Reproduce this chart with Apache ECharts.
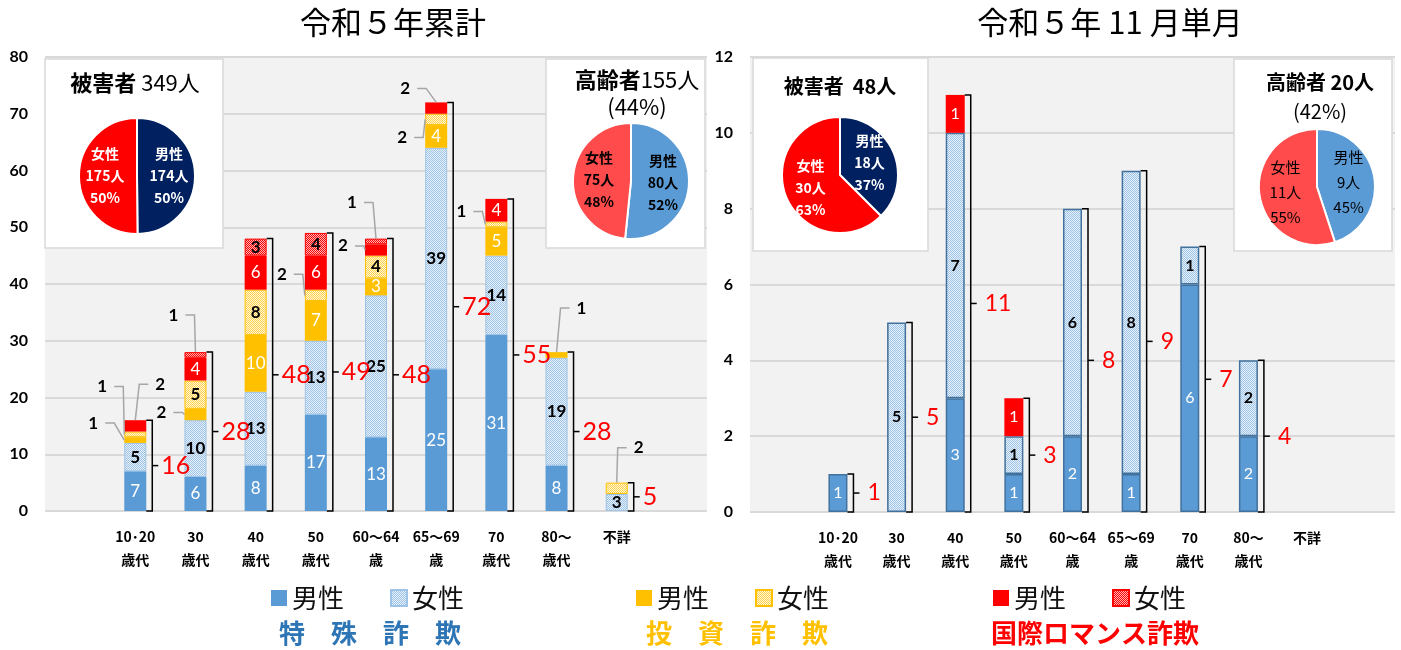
<!DOCTYPE html>
<html>
<head>
<meta charset="utf-8">
<title>年代別 詐欺被害状況</title>
<script src="https://cdn.jsdelivr.net/npm/echarts@6/dist/echarts.min.js"></script>
<style>
  html, body { margin: 0; padding: 0; background: #fff; }
  #main { width: 1401px; height: 650px; }
</style>
</head>
<body>
<div id="main"></div>
<script>
// 年代区分
var categories = ['10･20\n歳代', '30\n歳代', '40\n歳代', '50\n歳代', '60～64\n歳', '65～69\n歳', '70\n歳代', '80～\n歳代', '不詳'];

// 令和5年累計
var cumTokushuMale   = [7, 6, 8, 17, 13, 25, 31, 8, 0];
var cumTokushuFemale = [5, 10, 13, 13, 25, 39, 14, 19, 3];
var cumToshiMale     = [1, 2, 10, 7, 3, 4, 5, 1, 0];
var cumToshiFemale   = [1, 5, 8, 2, 4, 2, 1, 0, 2];
var cumRomanceMale   = [2, 4, 6, 6, 2, 2, 4, 0, 0];
var cumRomanceFemale = [0, 1, 3, 4, 1, 0, 0, 0, 0];

// 令和5年11月単月
var novTokushuMale   = [1, 0, 3, 1, 2, 1, 6, 2, 0];
var novTokushuFemale = [0, 5, 7, 1, 6, 8, 1, 2, 0];
var novToshiMale     = [0, 0, 0, 0, 0, 0, 0, 0, 0];
var novToshiFemale   = [0, 0, 0, 0, 0, 0, 0, 0, 0];
var novRomanceMale   = [0, 0, 1, 1, 0, 0, 0, 0, 0];
var novRomanceFemale = [0, 0, 0, 0, 0, 0, 0, 0, 0];

// 円グラフ（男性, 女性）
var genders = ['男性', '女性'];
var cumVictims = [174, 175];
var cumVictimsPct = [50, 50];
var cumElderly = [80, 75];
var cumElderlyPct = [52, 48];
var novVictims = [18, 30];
var novVictimsPct = [37, 63];
var novElderly = [9, 11];
var novElderlyPct = [45, 55];

var yTicksLeft = [0, 80, 10];
var yTicksRight = [0, 12, 2];

var seriesNames = ['特殊詐欺男性', '特殊詐欺女性', '投資詐欺男性', '投資詐欺女性', '国際ロマンス詐欺男性', '国際ロマンス詐欺女性'];

var CJK = "'Noto Sans CJK JP', sans-serif";
var NUM = "Lato, 'Noto Sans CJK JP', sans-serif";

// 引き出し線付きラベル（左グラフの小さい区間）
var leftCallouts = [
    {cat: 0, s: 2, at: 'left', dx: -31, dy: -17},
    {cat: 0, s: 3, at: 'left', dx: -22, dy: -48},
    {cat: 0, s: 4, at: 'top', dx: 25, dy: -36},
    {cat: 1, s: 5, at: 'top', dx: -22, dy: -37},
    {cat: 1, s: 2, at: 'left', dx: -23, dy: -2},
    {cat: 3, s: 3, at: 'left', dx: -23, dy: -21},
    {cat: 4, s: 4, at: 'left', dx: -22, dy: -4},
    {cat: 4, s: 5, at: 'top', dx: -24, dy: -36},
    {cat: 5, s: 4, at: 'top', dx: -31, dy: -14},
    {cat: 5, s: 3, at: 'left', dx: -23, dy: 18},
    {cat: 6, s: 3, at: 'left', dx: -24, dy: -13},
    {cat: 7, s: 2, at: 'top', dx: 25, dy: -44},
    {cat: 8, s: 3, at: 'top', dx: 22, dy: -35}
];

function makePattern(fg, bg) {
    var c = document.createElement('canvas');
    c.width = 4;
    c.height = 4;
    var ctx = c.getContext('2d');
    ctx.fillStyle = bg;
    ctx.fillRect(0, 0, 4, 4);
    ctx.fillStyle = fg;
    for (var y = 0; y < 4; y++) {
        for (var x = 0; x < 4; x++) {
            if ((x + y) % 2 === 0) ctx.fillRect(x, y, 1, 1);
        }
    }
    return {image: c, repeat: 'repeat'};
}

var fills = [
    '#5b9bd5',
    makePattern('#9dc3e6', '#e8f0fa'),
    '#ffc000',
    makePattern('#ffd34d', '#fff5d6'),
    '#ff0000',
    makePattern('#ff0000', '#ffb3b3')
];
var labelColors = ['#fff', '#000', '#fff', '#000', '#fff', '#000'];

function sum(a) { return a.reduce(function (x, y) { return x + y; }, 0); }

function totalsOf(groups) {
    return categories.map(function (c, i) {
        return groups.reduce(function (t, g) { return t + g[i]; }, 0);
    });
}

function barSeries(gi, groups, barW, minInside, fontSize, frames, frameW) {
    return groups.map(function (arr, s) {
        return {
            name: seriesNames[s],
            type: 'bar',
            xAxisIndex: gi,
            yAxisIndex: gi,
            stack: 'g' + gi,
            barWidth: barW,
            data: arr.map(function (v) { return v || null; }),
            itemStyle: {
                color: fills[s],
                borderColor: frames[s] || 'transparent',
                borderWidth: frames[s] ? frameW : 0
            },
            label: {
                show: true,
                position: 'inside',
                color: labelColors[s],
                fontSize: fontSize,
                fontFamily: NUM,
                fontWeight: s % 2 ? 'bold' : 'normal',
                formatter: function (p) { return p.value >= minInside ? p.value : ''; }
            },
            emphasis: {disabled: true}
        };
    });
}

// 合計の括弧と赤字
function bracketSeries(gi, totals, barW, fontSize, labelGap) {
    return {
        type: 'custom',
        xAxisIndex: gi,
        yAxisIndex: gi,
        z: 5,
        silent: true,
        data: totals.map(function (t, i) { return [i, t]; }),
        renderItem: function (params, api) {
            var t = api.value(1);
            if (!t) return null;
            var top = api.coord([api.value(0), t]);
            var bot = api.coord([api.value(0), 0]);
            var x = top[0] + barW / 2 + 6;
            var mid = (top[1] + bot[1]) / 2;
            return {
                type: 'group',
                children: [
                    {type: 'polyline', shape: {points: [[x - 6, top[1]], [x, top[1]], [x, bot[1]], [x - 6, bot[1]]]},
                        style: {stroke: '#000', lineWidth: 1.5, fill: null}},
                    {type: 'line', shape: {x1: x, y1: mid, x2: x + 6, y2: mid},
                        style: {stroke: '#000', lineWidth: 1.5}},
                    {type: 'text', style: {text: String(t), x: x + labelGap, y: mid, align: 'left', verticalAlign: 'middle',
                        fill: '#ff0000', fontSize: fontSize, fontFamily: NUM}}
                ]
            };
        }
    };
}

function calloutSeries(gi, groups, callouts, barW) {
    return {
        type: 'custom',
        xAxisIndex: gi,
        yAxisIndex: gi,
        z: 6,
        silent: true,
        data: callouts.map(function (c) {
            var lo = 0;
            for (var k = 0; k < c.s; k++) lo += groups[k][c.cat];
            return [c.cat, lo, lo + groups[c.s][c.cat]];
        }),
        renderItem: function (params, api) {
            var c = callouts[params.dataIndex];
            var pTop = api.coord([api.value(0), api.value(2)]);
            var pBot = api.coord([api.value(0), api.value(1)]);
            var ax, ay;
            if (c.at === 'top') { ax = pTop[0]; ay = pTop[1]; }
            else { ax = pTop[0] - barW / 2; ay = (pTop[1] + pBot[1]) / 2; }
            var lx = ax + c.dx, ly = ay + c.dy;
            var sg = ax > lx ? 1 : -1;
            return {
                type: 'group',
                children: [
                    {type: 'polyline', shape: {points: [[lx + sg * 12, ly], [lx + sg * 21, ly], [ax, ay]]},
                        style: {stroke: '#a6a6a6', lineWidth: 1.5, fill: null}},
                    {type: 'text', style: {text: String(api.value(2) - api.value(1)), x: lx, y: ly, align: 'center', verticalAlign: 'middle',
                        fill: '#000', fontSize: 17, fontWeight: 'bold', fontFamily: NUM}}
                ]
            };
        }
    };
}

function pieSeries(data, pct, center, colors, labelColor, fontWeight, fontSize, lineHeight) {
    return {
        type: 'pie',
        center: center,
        radius: 58,
        startAngle: 90,
        clockwise: true,
        z: 4,
        data: data.map(function (v, i) {
            return {name: genders[i], value: v, itemStyle: {color: colors[i]}};
        }),
        itemStyle: {borderColor: '#fff', borderWidth: 2},
        label: {
            position: 'inside',
            formatter: function (p) { return p.name + '\n' + p.value + '人\n' + pct[p.dataIndex] + '%'; },
            color: labelColor,
            fontSize: fontSize,
            fontWeight: fontWeight,
            lineHeight: lineHeight,
            fontFamily: CJK
        },
        labelLine: {show: false},
        emphasis: {disabled: true}
    };
}

var cumGroups = [cumTokushuMale, cumTokushuFemale, cumToshiMale, cumToshiFemale, cumRomanceMale, cumRomanceFemale];
var novGroups = [novTokushuMale, novTokushuFemale, novToshiMale, novToshiFemale, novRomanceMale, novRomanceFemale];

var cumTotal = sum(cumVictims), cumOld = sum(cumElderly);
var novTotal = sum(novVictims), novOld = sum(novElderly);

function xAxisOf(gi) {
    return {
        type: 'category', gridIndex: gi, data: categories, min: -1, max: 9,
        axisLine: {show: false}, axisTick: {show: false},
        axisLabel: {interval: 0, margin: 14, color: '#000', fontFamily: CJK, fontSize: 14, fontWeight: 'bold', lineHeight: 23}
    };
}
function yAxisOf(gi, ticks) {
    return {
        type: 'value', gridIndex: gi, min: ticks[0], max: ticks[1], interval: ticks[2],
        axisLine: {show: false}, axisTick: {show: false},
        axisLabel: {margin: 17, color: '#000', fontFamily: NUM, fontSize: 16, fontWeight: 'bold'},
        splitLine: {lineStyle: {color: '#d9d9d9', width: 2}}
    };
}

function legendOf(names, left) {
    return {
        data: names, left: left, top: 584, padding: 0, icon: 'rect',
        itemWidth: 16, itemHeight: 16, itemGap: 46,
        formatter: function (n) { return n.slice(-2); },
        textStyle: {fontFamily: CJK, fontSize: 26, color: '#111', lineHeight: 28}
    };
}

function textTitle(text, left, top, style) {
    return {text: text, left: left, top: top, textAlign: 'center', padding: 0, textStyle: style};
}

var chart = echarts.init(document.getElementById('main'));
var option = {
    animation: false,
    backgroundColor: '#fff',
    title: [
        textTitle('令和５年累計', 393, 5, {fontFamily: CJK, fontSize: 31, fontWeight: 'normal', color: '#000', lineHeight: 34}),
        textTitle('令和５年 11 月単月', 1110, 5, {fontFamily: CJK, fontSize: 31, fontWeight: 'normal', color: '#000', lineHeight: 34}),
        textTitle('{b|被害者} {n|' + cumTotal + '人}', 135, 70, {rich: {
            b: {fontFamily: CJK, fontSize: 22, fontWeight: 'bold', color: '#000', lineHeight: 26},
            n: {fontFamily: CJK, fontSize: 22, fontWeight: 'normal', color: '#000', lineHeight: 26}}}),
        textTitle('{b|高齢者}{n|' + cumOld + '人}\n{n|(' + Math.round(cumOld / cumTotal * 100) + '%)}', 637, 66, {rich: {
            b: {fontFamily: CJK, fontSize: 22, fontWeight: 'bold', color: '#000', lineHeight: 27},
            n: {fontFamily: CJK, fontSize: 22, fontWeight: 'normal', color: '#000', lineHeight: 27}}}),
        textTitle('{b|被害者  ' + novTotal + '人}', 840, 74, {rich: {
            b: {fontFamily: CJK, fontSize: 20, fontWeight: 'bold', color: '#000', lineHeight: 24}}}),
        textTitle('{b|高齢者 ' + novOld + '人}\n{n|(' + Math.round(novOld / novTotal * 100) + '%)}', 1320, 68, {rich: {
            b: {fontFamily: CJK, fontSize: 20, fontWeight: 'bold', color: '#000', lineHeight: 29},
            n: {fontFamily: CJK, fontSize: 20, fontWeight: 'normal', color: '#000', lineHeight: 29}}}),
        textTitle('特　殊　詐　欺', 370, 618, {fontFamily: CJK, fontSize: 26, fontWeight: 'bold', color: '#2e75b6', lineHeight: 30}),
        textTitle('投　資　詐　欺', 737, 618, {fontFamily: CJK, fontSize: 26, fontWeight: 'bold', color: '#ffc000', lineHeight: 30}),
        textTitle('国際ロマンス詐欺', 1095, 618, {fontFamily: CJK, fontSize: 26, fontWeight: 'bold', color: '#ff0000', lineHeight: 30})
    ],
    legend: [
        legendOf([seriesNames[0], seriesNames[1]], 271),
        legendOf([seriesNames[2], seriesNames[3]], 636),
        legendOf([seriesNames[4], seriesNames[5]], 993)
    ],
    grid: [
        {left: 45, top: 57, width: 662, height: 454, show: true, backgroundColor: '#f2f2f2', borderWidth: 0},
        {left: 750, top: 57, width: 645, height: 455, show: true, backgroundColor: '#f2f2f2', borderWidth: 0}
    ],
    xAxis: [xAxisOf(0), xAxisOf(1)],
    yAxis: [yAxisOf(0, yTicksLeft), yAxisOf(1, yTicksRight)],
    graphic: [
        {type: 'rect', z: 1, shape: {x: 45, y: 59, width: 178, height: 189}, style: {fill: '#fff', stroke: '#d9d9d9', lineWidth: 1.5}},
        {type: 'rect', z: 1, shape: {x: 546, y: 59, width: 159, height: 189}, style: {fill: '#fff', stroke: '#d9d9d9', lineWidth: 1.5}},
        {type: 'rect', z: 1, shape: {x: 753, y: 58, width: 175, height: 193}, style: {fill: '#fff', stroke: '#d9d9d9', lineWidth: 1.5}},
        {type: 'rect', z: 1, shape: {x: 1234, y: 59, width: 158, height: 192}, style: {fill: '#fff', stroke: '#d9d9d9', lineWidth: 1.5}}
    ],
    series: [].concat(
        barSeries(0, cumGroups, 22, 3, 17, [null, '#9dc3e6', null, '#ffc000', null, '#ff0000'], 1),
        barSeries(1, novGroups, 19, 1, 16, ['#41719c', '#41719c', null, null, null, null], 1.5),
        [
            bracketSeries(0, totalsOf(cumGroups), 22, 25, 9),
            bracketSeries(1, totalsOf(novGroups), 19, 23, 14),
            calloutSeries(0, cumGroups, leftCallouts, 22),
            pieSeries(cumVictims, cumVictimsPct, [137, 176], ['#002060', '#ff0000'], '#fff', 'bold', 14, 22),
            pieSeries(cumElderly, cumElderlyPct, [631, 181], ['#5b9bd5', '#ff4b4b'], '#000', 'bold', 14, 22),
            pieSeries(novVictims, novVictimsPct, [840, 175], ['#002060', '#ff0000'], '#fff', 'bold', 14, 22),
            pieSeries(novElderly, novElderlyPct, [1317, 187], ['#5b9bd5', '#ff4b4b'], '#000', 'normal', 15, 25)
        ]
    )
};
chart.setOption(option);
</script>
</body>
</html>
